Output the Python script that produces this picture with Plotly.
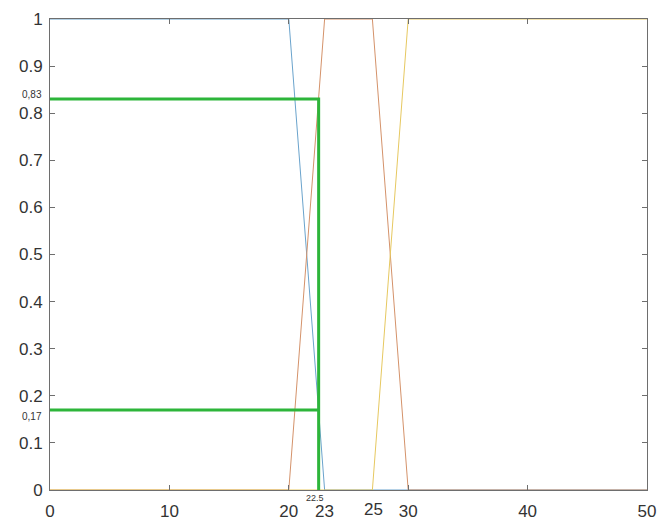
import plotly.graph_objects as go

# Membership functions (x breakpoints, membership degree)
blue_x = [0, 20, 23, 50]
blue_y = [1, 1, 0, 0]
brown_x = [0, 20, 23, 27, 30, 50]
brown_y = [0, 0, 1, 1, 0, 0]
yellow_x = [0, 27, 30, 50]
yellow_y = [0, 0, 1, 1]

# Input value and resulting degrees
x_input = 22.5
deg_high = 0.83
deg_low = 0.17

x_ticks = [0, 10, 20, 30, 40, 50]
y_ticks = [0, 0.1, 0.2, 0.3, 0.4, 0.5, 0.6, 0.7, 0.8, 0.9, 1]
y_ticktext = ["0", "0.1", "0.2", "0.3", "0.4", "0.5", "0.6", "0.7", "0.8", "0.9", "1"]

fig = go.Figure()
fig.add_trace(go.Scatter(x=blue_x, y=blue_y, mode="lines",
                         line=dict(color="#6aa3cc", width=1), showlegend=False))
fig.add_trace(go.Scatter(x=brown_x, y=brown_y, mode="lines",
                         line=dict(color="#d4926a", width=1), showlegend=False))
fig.add_trace(go.Scatter(x=yellow_x, y=yellow_y, mode="lines",
                         line=dict(color="#e6c860", width=1), showlegend=False))

green = "#2db53a"
fig.add_trace(go.Scatter(x=[0, x_input, x_input], y=[deg_high, deg_high, 0], mode="lines",
                         line=dict(color=green, width=3), showlegend=False))
fig.add_trace(go.Scatter(x=[0, x_input], y=[deg_low, deg_low], mode="lines",
                         line=dict(color=green, width=3), showlegend=False))

tick_font = dict(family="Liberation Sans, Arial, sans-serif", size=17, color="#333333")
small_font = dict(family="Liberation Sans, Arial, sans-serif", size=10, color="#333333")

annotations = [
    dict(x=0, xref="paper", y=deg_high, yref="y", text="0,83", showarrow=False,
         xanchor="right", yanchor="bottom", xshift=-6, yshift=-3, font=small_font),
    dict(x=0, xref="paper", y=deg_low, yref="y", text="0,17", showarrow=False,
         xanchor="right", yanchor="middle", xshift=-6, yshift=-7, font=small_font),
    dict(x=x_input, xref="x", y=0, yref="paper", text="22.5", showarrow=False,
         xanchor="center", yanchor="top", xshift=-4, yshift=-1, font=dict(small_font, size=9)),
    dict(x=23, xref="x", y=0, yref="paper", text="23", showarrow=False,
         xanchor="center", yanchor="middle", yshift=-21, font=tick_font),
    dict(x=27.1, xref="x", y=0, yref="paper", text="25", showarrow=False,
         xanchor="center", yanchor="middle", yshift=-19, font=tick_font),
]

axis_common = dict(showline=True, linecolor="#6e6e6e", linewidth=1, mirror="ticks",
                   ticks="inside", ticklen=5, tickcolor="#6e6e6e", showgrid=False,
                   zeroline=False, tickfont=tick_font, automargin=False,
                   layer="above traces")

fig.update_layout(
    width=659, height=520,
    margin=dict(l=50, r=12, t=19, b=30),
    paper_bgcolor="white", plot_bgcolor="white",
    xaxis=dict(range=[0, 50], tickvals=x_ticks, ticklabelstandoff=6, **axis_common),
    yaxis=dict(range=[0, 1], tickvals=y_ticks, ticktext=y_ticktext,
               ticklabelstandoff=3, **axis_common),
    annotations=annotations,
)

# Remove the default page margin so the figure fills the window exactly.
fig.write_html("out.html",
               config={"displayModeBar": False},
               post_script="document.body.style.margin='0';document.body.style.overflow='hidden';")
